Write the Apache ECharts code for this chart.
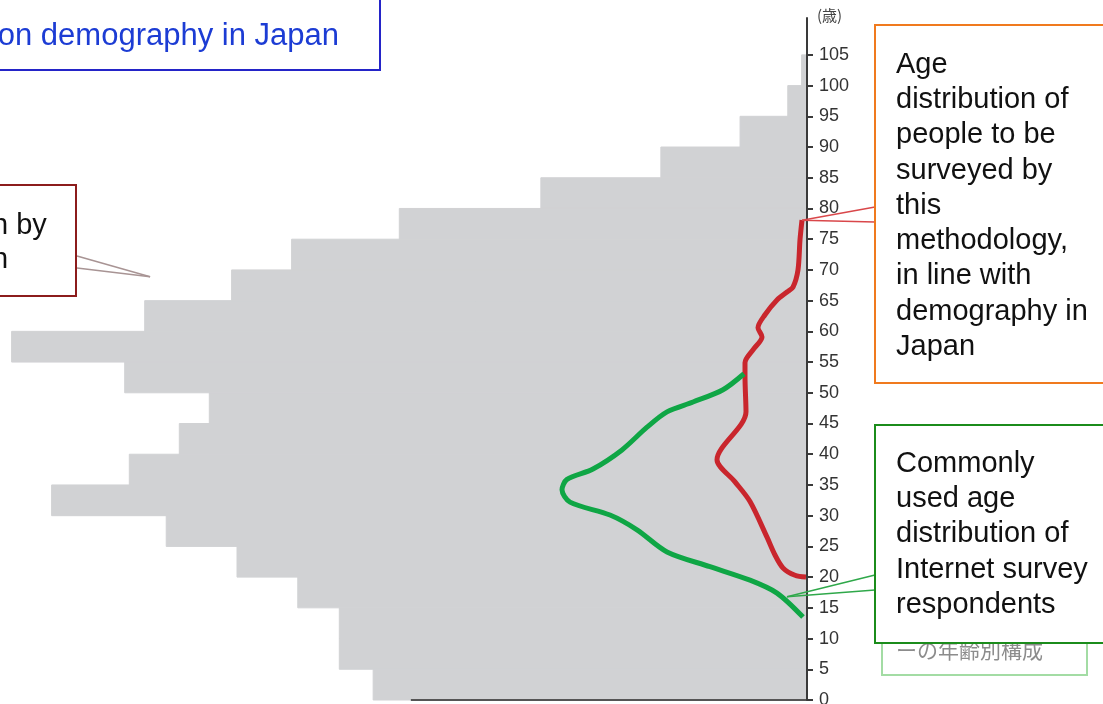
<!DOCTYPE html>
<html>
<head>
<meta charset="utf-8">
<script src="https://cdn.jsdelivr.net/npm/echarts@6/dist/echarts.min.js"></script>
<style>
  html, body { margin: 0; padding: 0; background: #fff; }
  #chart { width: 1103px; height: 704px; }
</style>
</head>
<body>
<div id="chart"></div>
<script>
// Five-year age bands (start age of each band) and population per band, in thousands
const bandStarts = [0, 5, 10, 15, 20, 25, 30, 35, 40, 45, 50, 55, 60, 65, 70, 75, 80, 85, 90, 95, 100];
const population = [5640, 6080, 6080, 6620, 7410, 8330, 9820, 8810, 8160, 7770, 8870, 10340, 8610, 7480, 6700, 5300, 3460, 1900, 870, 250, 70];

// Age ticks on the vertical axis
const ageTicks = [0, 5, 10, 15, 20, 25, 30, 35, 40, 45, 50, 55, 60, 65, 70, 75, 80, 85, 90, 95, 100, 105];

// Age profile of the quota-based panel: [value, age]
const quotaProfile = [
  [65, 78.1], [91, 74.9], [117, 70.0], [182, 67.2], [260, 66.4], [390, 65.1],
  [546, 62.7], [637, 60.6], [585, 59.1], [702, 57.0], [806, 54.9], [806, 52.6],
  [793, 46.9], [1170, 39.1], [936, 35.5], [741, 32.3], [520, 26.5], [416, 23.6],
  [312, 21.5], [156, 20.3], [13, 20.0]
];

// Age profile of typical internet survey respondents: [value, age]
const webProfile = [
  [819, 53.1], [1092, 50.5], [1482, 48.5], [1820, 46.9], [2080, 44.4], [2405, 40.7],
  [2782, 37.6], [3120, 35.9], [3185, 34.2], [3081, 32.2], [2561, 30.1], [2210, 27.7],
  [1820, 24.1], [1261, 21.7], [741, 19.5], [390, 17.4], [52, 13.5]
];

const chart = echarts.init(document.getElementById('chart'), null, { renderer: 'canvas' });

const option = {
  animation: false,
  backgroundColor: '#ffffff',
  grid: { left: 7, right: 296, top: 18, bottom: 4, containLabel: false, outerBoundsMode: 'none' },
  xAxis: {
    type: 'value', inverse: true, min: 0, max: 10400, show: false
  },
  yAxis: {
    type: 'value', position: 'right', min: 0, max: 111, interval: 5, z: 10,
    name: '(歳)', nameLocation: 'end', nameGap: 3,
    nameTextStyle: {
      fontFamily: 'Noto Sans CJK JP', fontSize: 15, color: '#444',
      align: 'left', verticalAlign: 'middle', padding: [0, 0, 0, 10]
    },
    axisLine: { show: true, lineStyle: { color: '#3a3a3a', width: 2 } },
    axisTick: { show: true, inside: false, length: 6, customValues: ageTicks,
      lineStyle: { color: '#3a3a3a', width: 2 } },
    axisLabel: { customValues: ageTicks, margin: 12, fontFamily: 'Liberation Sans, Arial',
      fontSize: 18, color: '#333' },
    splitLine: { show: false }
  },
  series: [
    {
      type: 'custom',
      name: 'population',
      data: bandStarts.map((a, i) => [a, population[i]]),
      renderItem: function (params, api) {
        const a = api.value(0), v = api.value(1);
        const p0 = api.coord([0, a]);
        const p1 = api.coord([v, a + 5]);
        return {
          type: 'rect',
          shape: { x: p1[0], y: p1[1], width: p0[0] - p1[0], height: p0[1] - p1[1] },
          style: { fill: '#d1d2d4', stroke: '#d1d2d4', lineWidth: 1 }
        };
      },
      encode: { x: 1, y: 0 },
      markLine: {
        silent: true, symbol: 'none', label: { show: false },
        lineStyle: { color: '#555', width: 2, type: 'solid' },
        data: [[{ coord: [0, 0] }, { coord: [5150, 0] }]]
      },
      z: 1
    },
    {
      type: 'line', name: 'quota', data: quotaProfile, smooth: 0.3,
      symbol: 'none', lineStyle: { color: '#c9262d', width: 5 }, z: 3
    },
    {
      type: 'line', name: 'web', data: webProfile, smooth: 0.3,
      symbol: 'none', lineStyle: { color: '#0fa645', width: 5 }, z: 4
    }
  ]
};

chart.setOption(option);

// Callout tips are anchored to data positions on the chart
const tipPop = chart.convertToPixel({ gridIndex: 0 }, [8540, 68.9]);
const tipQuota = chart.convertToPixel({ gridIndex: 0 }, quotaProfile[0]);
const tipWeb = chart.convertToPixel({ gridIndex: 0 }, [260, 16.8]);

const boxFont = '29px "Liberation Sans", Arial, sans-serif';

function callout(x1, y1, tip, color) {
  return {
    type: 'line', z: 50,
    shape: { x1: x1, y1: y1, x2: tip[0], y2: tip[1] },
    style: { stroke: color, lineWidth: 1.5 }
  };
}

chart.setOption({
  graphic: [
    // population box (top left)
    { type: 'rect', z: 100, shape: { x: -10, y: -10, width: 390, height: 80 },
      style: { fill: '#fff', stroke: '#2424c8', lineWidth: 2 } },
    { type: 'text', z: 101, x: 339, y: 36,
      style: { text: 'on demography in Japan', font: '31px "Liberation Sans", Arial, sans-serif',
        fill: '#1c3cd4', textAlign: 'right', textVerticalAlign: 'middle' } },

    // pyramid box (left)
    callout(77, 256, tipPop, '#a89494'),
    callout(77, 268, tipPop, '#a89494'),
    { type: 'rect', z: 100, shape: { x: -10, y: 185, width: 86, height: 111 },
      style: { fill: '#fff', stroke: '#8c1c1c', lineWidth: 2 } },
    { type: 'text', z: 101, x: -8, y: 209,
      style: { text: 'n by\nn', font: boxFont, lineHeight: 34, fill: '#111',
        textAlign: 'left', textVerticalAlign: 'top' } },

    // quota panel box (right, orange)
    callout(875, 207, tipQuota, '#d9474a'),
    callout(875, 222, tipQuota, '#d9474a'),
    { type: 'rect', z: 100, shape: { x: 875, y: 25, width: 260, height: 358 },
      style: { fill: '#fff', stroke: '#f07a1e', lineWidth: 2 } },
    { type: 'text', z: 101, x: 896, y: 47,
      style: { text: 'Age\ndistribution of\npeople to be\nsurveyed by\nthis\nmethodology,\nin line with\ndemography in\nJapan',
        font: boxFont, lineHeight: 35.3, fill: '#111', textAlign: 'left', textVerticalAlign: 'top' } },

    // older caption box partly hidden behind the green box
    { type: 'rect', z: 90, shape: { x: 882, y: 560, width: 205, height: 115 },
      style: { fill: '#fff', stroke: '#a3dca4', lineWidth: 2 } },
    { type: 'text', z: 91, x: 896, y: 650,
      style: { text: 'ーの年齢別構成', font: '21px "Noto Sans CJK JP", sans-serif',
        fill: '#8c8c8c', textAlign: 'left', textVerticalAlign: 'middle' } },

    // internet respondents box (right, green)
    callout(875, 575, tipWeb, '#2fa84a'),
    callout(875, 590, tipWeb, '#2fa84a'),
    { type: 'rect', z: 100, shape: { x: 875, y: 425, width: 260, height: 218 },
      style: { fill: '#fff', stroke: '#1b8c1b', lineWidth: 2 } },
    { type: 'text', z: 101, x: 896, y: 446,
      style: { text: 'Commonly\nused age\ndistribution of\nInternet survey\nrespondents',
        font: boxFont, lineHeight: 35.3, fill: '#111', textAlign: 'left', textVerticalAlign: 'top' } }
  ]
});
</script>
</body>
</html>
